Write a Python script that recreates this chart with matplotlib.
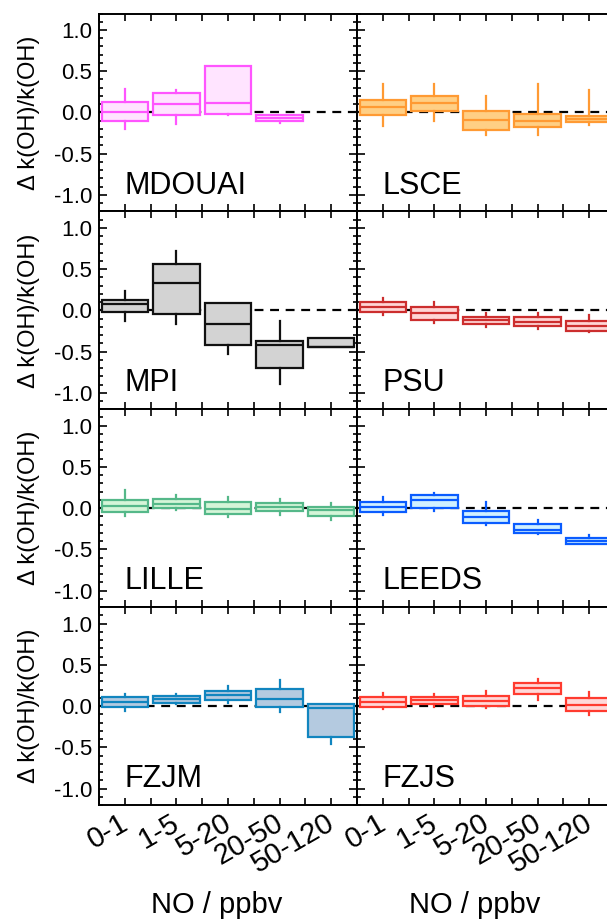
import matplotlib
matplotlib.use('Agg')
import matplotlib.pyplot as plt
import matplotlib.transforms as mtransforms
from matplotlib.ticker import MultipleLocator, FixedLocator

plt.rcParams['font.family'] = ['Liberation Sans', 'DejaVu Sans']

no_bins = ['0-1', '1-5', '5-20', '20-50', '50-120']

# box statistics: whisker low, q1, median, q3, whisker high
mdouai_lo = [-0.20, -0.14, -0.035, -0.13]
mdouai_q1 = [-0.105, -0.035, -0.015, -0.105]
mdouai_med = [0.00, 0.10, 0.11, -0.065]
mdouai_q3 = [0.125, 0.24, 0.56, -0.03]
mdouai_hi = [0.29, 0.275, 0.56, -0.03]

lsce_lo = [-0.16, -0.10, -0.27, -0.27, -0.15]
lsce_q1 = [-0.036, 0.012, -0.21, -0.18, -0.12]
lsce_med = [0.064, 0.113, -0.089, -0.105, -0.08]
lsce_q3 = [0.154, 0.194, 0.02, -0.016, -0.048]
lsce_hi = [0.35, 0.34, 0.20, 0.35, 0.27]

mpi_lo = [-0.13, -0.167, -0.535, -0.893, -0.446]
mpi_q1 = [-0.025, -0.045, -0.426, -0.698, -0.446]
mpi_med = [0.073, 0.336, -0.167, -0.426, -0.44]
mpi_q3 = [0.12, 0.567, 0.093, -0.373, -0.333]
mpi_hi = [0.235, 0.72, 0.093, -0.134, -0.333]

psu_lo = [-0.061, -0.158, -0.203, -0.223, -0.268]
psu_q1 = [-0.017, -0.122, -0.17, -0.191, -0.252]
psu_med = [0.044, -0.037, -0.122, -0.138, -0.187]
psu_q3 = [0.101, 0.036, -0.077, -0.085, -0.13]
psu_hi = [0.146, 0.105, -0.037, -0.037, -0.057]

lille_lo = [-0.089, -0.016, -0.11, -0.077, -0.142]
lille_q1 = [-0.049, 0.004, -0.073, -0.037, -0.089]
lille_med = [0.024, 0.053, -0.012, 0.012, -0.028]
lille_q3 = [0.094, 0.106, 0.07, 0.061, 0.012]
lille_hi = [0.216, 0.155, 0.134, 0.114, 0.065]

leeds_lo = [-0.085, -0.04, -0.199, -0.313, -0.435]
leeds_q1 = [-0.049, 0.0, -0.178, -0.305, -0.435]
leeds_med = [0.012, 0.102, -0.101, -0.264, -0.402]
leeds_q3 = [0.073, 0.155, -0.032, -0.195, -0.366]
leeds_hi = [0.134, 0.183, 0.073, -0.142, -0.325]

fzjm_lo = [-0.061, 0.024, 0.041, -0.077, -0.462]
fzjm_q1 = [-0.016, 0.041, 0.073, -0.008, -0.377]
fzjm_med = [0.053, 0.085, 0.13, 0.081, -0.028]
fzjm_q3 = [0.114, 0.122, 0.182, 0.203, 0.024]
fzjm_hi = [0.146, 0.146, 0.243, 0.316, 0.024]

fzjs_lo = [-0.04, -0.008, -0.02, 0.073, -0.11]
fzjs_q1 = [-0.008, 0.02, 0.0, 0.142, -0.061]
fzjs_med = [0.045, 0.073, 0.065, 0.215, 0.008]
fzjs_q3 = [0.105, 0.114, 0.126, 0.276, 0.101]
fzjs_hi = [0.154, 0.142, 0.187, 0.324, 0.166]

panels = [
    ('MDOUAI', '#FF55FF', '#FFE4FF', mdouai_lo, mdouai_q1, mdouai_med, mdouai_q3, mdouai_hi),
    ('LSCE', '#FF9A33', '#FFCF85', lsce_lo, lsce_q1, lsce_med, lsce_q3, lsce_hi),
    ('MPI', '#111111', '#D3D3D3', mpi_lo, mpi_q1, mpi_med, mpi_q3, mpi_hi),
    ('PSU', '#CC2E2E', '#FFD5D5', psu_lo, psu_q1, psu_med, psu_q3, psu_hi),
    ('LILLE', '#55B889', '#D5F5D8', lille_lo, lille_q1, lille_med, lille_q3, lille_hi),
    ('LEEDS', '#0A5CFF', '#D0F0FF', leeds_lo, leeds_q1, leeds_med, leeds_q3, leeds_hi),
    ('FZJM', '#1185BF', '#B4CAE0', fzjm_lo, fzjm_q1, fzjm_med, fzjm_q3, fzjm_hi),
    ('FZJS', '#FF3B2F', '#FFD8D8', fzjs_lo, fzjs_q1, fzjs_med, fzjs_q3, fzjs_hi),
]

W, H = 607, 919
fig, axes = plt.subplots(4, 2, figsize=(W / 100, H / 100), dpi=100,
                         sharex=True, sharey=True,
                         gridspec_kw=dict(left=99 / W, right=615 / W,
                                          top=1 - 13.5 / H, bottom=1 - 805 / H,
                                          hspace=0, wspace=0))

for ax, (name, edge, fill, lo, q1, med, q3, hi) in zip(axes.flat, panels):
    ax.axhline(0, color='black', lw=1.6, ls=(0, (4, 3)), zorder=1)
    stats = [dict(whislo=a, q1=b, med=c, q3=d, whishi=e, fliers=[])
             for a, b, c, d, e in zip(lo, q1, med, q3, hi)]
    ax.bxp(stats, positions=range(len(stats)), widths=0.9,
           showcaps=False, showfliers=False, patch_artist=True,
           manage_ticks=False, zorder=2,
           boxprops=dict(facecolor=fill, edgecolor=edge, lw=1.6),
           whiskerprops=dict(color=edge, lw=1.6),
           medianprops=dict(color=edge, lw=1.6))
    ax.text(0.1, 0.09, name, transform=ax.transAxes, fontsize=22)

    ax.set_xlim(-0.5, 4.5)
    ax.set_ylim(-1.2, 1.2)
    ax.xaxis.set_major_locator(FixedLocator(range(len(no_bins))))
    ax.xaxis.set_minor_locator(MultipleLocator(0.5))
    ax.yaxis.set_major_locator(MultipleLocator(0.5))
    ax.yaxis.set_minor_locator(MultipleLocator(0.1))
    ax.tick_params(which='both', direction='in', top=True, right=True, width=1.2)
    ax.tick_params(axis='x', which='both', length=5)
    ax.tick_params(axis='y', which='major', length=6, labelsize=16, pad=5)
    ax.tick_params(axis='y', which='minor', length=3)
    for sp in ax.spines.values():
        sp.set_linewidth(1.4)

for ax in axes[:, 0]:
    ax.set_ylabel('\u0394 k(OH)/k(OH)', fontsize=17, labelpad=10)
    ax.set_yticks([-1.0, -0.5, 0.0, 0.5, 1.0])
    ax.set_yticklabels(['-1.0', '-0.5', '0.0', '0.5', '1.0'])

shift = mtransforms.ScaledTranslation(-6 / 100, 0, fig.dpi_scale_trans)
for ax in axes[-1, :]:
    ax.set_xticks(range(len(no_bins)))
    ax.set_xticklabels(no_bins, rotation=30, ha='right', va='top',
                       rotation_mode='anchor', fontsize=21)
    ax.tick_params(axis='x', pad=3)
    for lab in ax.get_xticklabels():
        lab.set_transform(lab.get_transform() + shift)
    ax.set_xlabel('NO / ppbv', fontsize=21)
    ax.xaxis.set_label_coords(0.457, -0.435)

fig.savefig('out.png', dpi=100)
